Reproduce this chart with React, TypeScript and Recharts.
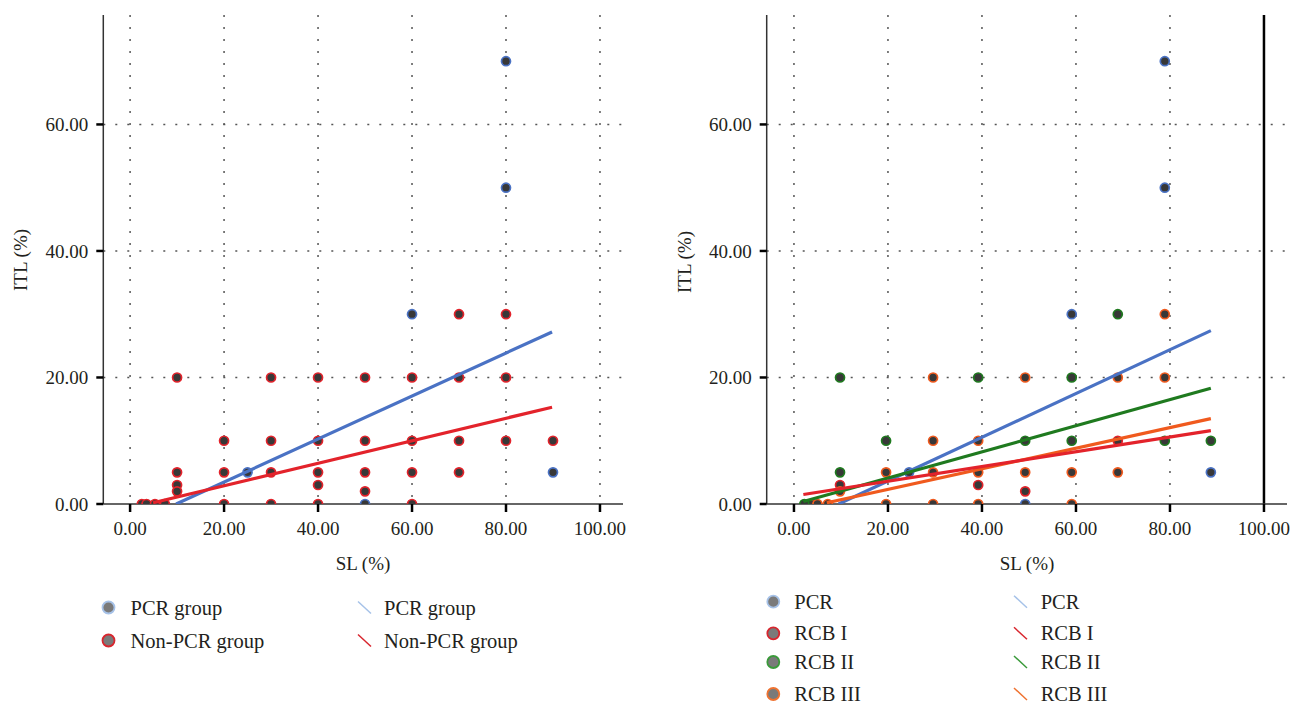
import React from 'react';
import { ScatterChart, Scatter, XAxis, YAxis, CartesianGrid, ReferenceLine } from 'recharts';

// ---------- ticks ----------
const X_TICKS = [0, 20, 40, 60, 80, 100];
const Y_TICKS = [0, 20, 40, 60];
const Y_GRID = [20, 40, 60];
const X_DOMAIN_LEFT: [number, number] = [-5.7, 104.9];
const X_DOMAIN_RIGHT: [number, number] = [-5.8, 104.9];
const Y_DOMAIN: [number, number] = [0, 77.3];

// ---------- left chart data ----------
const leftPcrPoints = [
  { x: 80, y: 70 }, { x: 80, y: 50 }, { x: 60, y: 30 }, { x: 90, y: 5 }, { x: 50, y: 0 }, { x: 25, y: 5 },
];
const leftNonPcrPoints = [
  { x: 70, y: 30 }, { x: 80, y: 30 },
  { x: 10, y: 20 }, { x: 30, y: 20 }, { x: 40, y: 20 }, { x: 50, y: 20 }, { x: 60, y: 20 }, { x: 70, y: 20 }, { x: 80, y: 20 },
  { x: 20, y: 10 }, { x: 30, y: 10 }, { x: 40, y: 10 }, { x: 50, y: 10 }, { x: 60, y: 10 }, { x: 70, y: 10 }, { x: 80, y: 10 }, { x: 90, y: 10 },
  { x: 10, y: 5 }, { x: 20, y: 5 }, { x: 30, y: 5 }, { x: 40, y: 5 }, { x: 50, y: 5 }, { x: 60, y: 5 }, { x: 70, y: 5 },
  { x: 10, y: 3 }, { x: 40, y: 3 },
  { x: 10, y: 2 }, { x: 50, y: 2 },
  { x: 2.5, y: 0 }, { x: 3.5, y: 0 }, { x: 5.3, y: 0 }, { x: 7.4, y: 0 }, { x: 20, y: 0 }, { x: 30, y: 0 }, { x: 40, y: 0 }, { x: 60, y: 0 },
];
const leftPcrLine = [{ x: 9.8, y: 0 }, { x: 89.8, y: 27.2 }];
const leftNonPcrLine = [{ x: 4.9, y: 0.2 }, { x: 89.8, y: 15.3 }];

// ---------- right chart data ----------
const rightPcrPoints = [
  { x: 78.9, y: 70 }, { x: 78.9, y: 50 }, { x: 59.1, y: 30 }, { x: 88.7, y: 5 }, { x: 49.2, y: 0 }, { x: 24.5, y: 5 },
];
const rightRcb1Points = [
  { x: 9.8, y: 3 }, { x: 39.2, y: 3 }, { x: 49.2, y: 2 }, { x: 68.9, y: 10 }, { x: 3.5, y: 0 },
];
const rightRcb2Points = [
  { x: 68.9, y: 30 },
  { x: 9.8, y: 20 }, { x: 39.2, y: 20 }, { x: 59.1, y: 20 },
  { x: 19.6, y: 10 }, { x: 49.2, y: 10 }, { x: 59.1, y: 10 }, { x: 78.9, y: 10 }, { x: 88.7, y: 10 },
  { x: 9.8, y: 5 },
  { x: 2.2, y: 0 },
];
const rightRcb3Points = [
  { x: 78.9, y: 30 },
  { x: 29.6, y: 20 }, { x: 49.2, y: 20 }, { x: 68.9, y: 20 }, { x: 78.9, y: 20 },
  { x: 29.6, y: 10 }, { x: 39.2, y: 10 },
  { x: 19.6, y: 5 }, { x: 29.6, y: 5 }, { x: 39.2, y: 5 }, { x: 49.2, y: 5 }, { x: 59.1, y: 5 }, { x: 68.9, y: 5 },
  { x: 9.8, y: 2 },
  { x: 5.0, y: 0 }, { x: 7.2, y: 0 }, { x: 19.6, y: 0 }, { x: 29.6, y: 0 }, { x: 39.2, y: 0 }, { x: 59.1, y: 0 },
];
const rightPcrLine = [{ x: 9.5, y: 0 }, { x: 88.7, y: 27.4 }];
const rightRcb1Line = [{ x: 2.0, y: 1.5 }, { x: 88.7, y: 11.6 }];
const rightRcb2Line = [{ x: 2.0, y: 0.4 }, { x: 88.7, y: 18.3 }];
const rightRcb3Line = [{ x: 7.0, y: 0.2 }, { x: 88.7, y: 13.5 }];

// ---------- legend labels ----------
const leftLegendNames = ['PCR group', 'Non-PCR group'];
const rightLegendNames = ['PCR', 'RCB I', 'RCB II', 'RCB III'];

const FONT = '"Liberation Serif", "Times New Roman", serif';
const TEXT = '#231f20';

const C = {
  blue: '#4a72c4',
  red: '#e3232b',
  green: '#1f7a1f',
  orange: '#f05a1e',
  legendBlue: '#a6c2e8',
  legendRed: '#d8262e',
  legendGreen: '#3a9a3a',
  legendOrange: '#ef7230',
};

const dot = (edge: string) => (props: any) => {
  if (props.cx == null || props.cy == null) return <g />;
  return <circle cx={props.cx} cy={props.cy} r={4.5} fill="#383838" stroke={edge} strokeWidth={1.7} />;
};
const noShape = () => <g />;
const fmt = (v: number) => v.toFixed(2);

const tickStyle = { fontFamily: FONT, fontSize: 19, fill: TEXT };
const axisLineStyle = { stroke: '#333', strokeWidth: 1.5 };
const tickLineStyle = { stroke: '#000', strokeWidth: 2.5 };

function ChartLeft() {
  return (
    <ScatterChart width={650} height={580} margin={{ top: 15, right: 27, bottom: 0, left: 0 }}>
      <CartesianGrid stroke="#555" strokeWidth={1.5} strokeDasharray="2 10" horizontalValues={Y_GRID} verticalValues={X_TICKS} />
      <XAxis
        type="number"
        dataKey="x"
        domain={X_DOMAIN_LEFT}
        allowDataOverflow
        ticks={X_TICKS}
        tickFormatter={fmt}
        height={76}
        tickSize={8}
        tickMargin={10}
        tick={tickStyle}
        axisLine={axisLineStyle}
        tickLine={tickLineStyle}
      />
      <YAxis
        type="number"
        dataKey="y"
        domain={Y_DOMAIN}
        allowDataOverflow
        ticks={Y_TICKS}
        tickFormatter={fmt}
        width={103.3}
        tickSize={7}
        tickMargin={8}
        tick={tickStyle}
        axisLine={axisLineStyle}
        tickLine={tickLineStyle}
      />
      <Scatter data={leftPcrPoints} shape={dot(C.blue)} isAnimationActive={false} />
      <Scatter data={leftNonPcrPoints} shape={dot(C.red)} isAnimationActive={false} />
      <Scatter data={leftPcrLine} line={{ stroke: C.blue, strokeWidth: 3.2 }} shape={noShape} isAnimationActive={false} />
      <Scatter data={leftNonPcrLine} line={{ stroke: C.red, strokeWidth: 3.2 }} shape={noShape} isAnimationActive={false} />
    </ScatterChart>
  );
}

function ChartRight() {
  return (
    <ScatterChart width={628} height={580} margin={{ top: 15, right: 4, bottom: 0, left: 0 }}>
      <CartesianGrid stroke="#555" strokeWidth={1.5} strokeDasharray="2 10" horizontalValues={Y_GRID} verticalValues={X_TICKS.slice(0, -1)} />
      <XAxis
        type="number"
        dataKey="x"
        domain={X_DOMAIN_RIGHT}
        allowDataOverflow
        ticks={X_TICKS}
        tickFormatter={fmt}
        height={76}
        tickSize={8}
        tickMargin={10}
        tick={tickStyle}
        axisLine={axisLineStyle}
        tickLine={tickLineStyle}
      />
      <YAxis
        type="number"
        dataKey="y"
        domain={Y_DOMAIN}
        allowDataOverflow
        ticks={Y_TICKS}
        tickFormatter={fmt}
        width={103.7}
        tickSize={7}
        tickMargin={8}
        tick={tickStyle}
        axisLine={axisLineStyle}
        tickLine={tickLineStyle}
      />
      <ReferenceLine x={X_TICKS[X_TICKS.length - 1]} stroke="#000" strokeWidth={2.5} />
      <Scatter data={rightPcrPoints} shape={dot(C.blue)} isAnimationActive={false} />
      <Scatter data={rightRcb1Points} shape={dot(C.red)} isAnimationActive={false} />
      <Scatter data={rightRcb2Points} shape={dot(C.green)} isAnimationActive={false} />
      <Scatter data={rightRcb3Points} shape={dot(C.orange)} isAnimationActive={false} />
      <Scatter data={rightPcrLine} line={{ stroke: C.blue, strokeWidth: 3.2 }} shape={noShape} isAnimationActive={false} />
      <Scatter data={rightRcb2Line} line={{ stroke: C.green, strokeWidth: 3.2 }} shape={noShape} isAnimationActive={false} />
      <Scatter data={rightRcb3Line} line={{ stroke: C.orange, strokeWidth: 3.2 }} shape={noShape} isAnimationActive={false} />
      <Scatter data={rightRcb1Line} line={{ stroke: C.red, strokeWidth: 3.2 }} shape={noShape} isAnimationActive={false} />
    </ScatterChart>
  );
}

const leftLegendColors = [C.legendBlue, C.legendRed];
const rightLegendColors = [C.legendBlue, C.legendRed, C.legendGreen, C.legendOrange];
const leftRowsY = [607.5, 640.5];
const rightRowsY = [601.7, 633.3, 662, 694];

function Overlay() {
  const txt = { fontFamily: FONT, fontSize: 20.5, fill: TEXT } as const;
  const axisTxt = { fontFamily: FONT, fontSize: 19, fill: TEXT } as const;
  return (
    <svg width={1291} height={705} style={{ position: 'absolute', left: 0, top: 0, pointerEvents: 'none' }}>
      <text x={363} y={563} textAnchor="middle" dominantBaseline="central" {...axisTxt}>SL (%)</text>
      <text x={1027} y={563} textAnchor="middle" dominantBaseline="central" {...axisTxt}>SL (%)</text>
      <text x={20} y={260} textAnchor="middle" dominantBaseline="central" transform="rotate(-90 20 260)" {...axisTxt}>ITL (%)</text>
      <text x={684} y={262} textAnchor="middle" dominantBaseline="central" transform="rotate(-90 684 262)" {...axisTxt}>ITL (%)</text>

      {leftLegendNames.map((n, i) => (
        <g key={'l' + i}>
          <circle cx={108.5} cy={leftRowsY[i]} r={6} fill="#7a7a7a" stroke={leftLegendColors[i]} strokeWidth={1.8} />
          <text x={130.5} y={leftRowsY[i]} dominantBaseline="central" {...txt}>{n}</text>
          <line x1={358} y1={leftRowsY[i] - 6} x2={371} y2={leftRowsY[i] + 6} stroke={leftLegendColors[i]} strokeWidth={1.5} />
          <text x={384} y={leftRowsY[i]} dominantBaseline="central" {...txt}>{n}</text>
        </g>
      ))}
      {rightLegendNames.map((n, i) => (
        <g key={'r' + i}>
          <circle cx={773.3} cy={rightRowsY[i]} r={6} fill="#7a7a7a" stroke={rightLegendColors[i]} strokeWidth={1.8} />
          <text x={794.3} y={rightRowsY[i]} dominantBaseline="central" {...txt}>{n}</text>
          <line x1={1014} y1={rightRowsY[i] - 6} x2={1027} y2={rightRowsY[i] + 6} stroke={rightLegendColors[i]} strokeWidth={1.5} />
          <text x={1040.7} y={rightRowsY[i]} dominantBaseline="central" {...txt}>{n}</text>
        </g>
      ))}
    </svg>
  );
}

export default function App() {
  return (
    <div style={{ position: 'absolute', left: 0, top: 0, width: 1291, height: 705, background: '#fff', overflow: 'hidden' }}>
      <div style={{ position: 'absolute', left: 0, top: 0 }}>
        <ChartLeft />
      </div>
      <div style={{ position: 'absolute', left: 663, top: 0 }}>
        <ChartRight />
      </div>
      <Overlay />
    </div>
  );
}
